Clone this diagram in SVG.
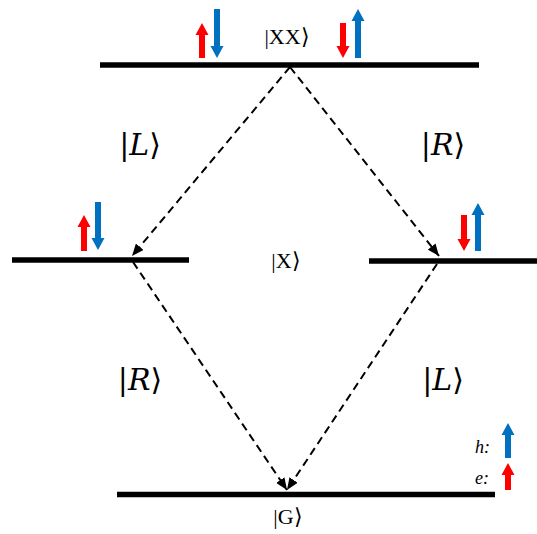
<svg xmlns="http://www.w3.org/2000/svg" width="537" height="534" viewBox="0 0 537 534">
<style>
.lvl{stroke:#000;stroke-width:5.5;fill:none}
.dash{stroke:#000;stroke-width:2;stroke-dasharray:8,5;fill:none}
.ket{font-family:"Liberation Serif",serif;font-size:22px;text-anchor:middle;fill:#000}
.pol{font-family:"DejaVu Serif","Liberation Serif",serif;font-size:30px;text-anchor:middle;fill:#000}
.lg{font-family:"Liberation Serif",serif;font-size:18px;font-style:italic;fill:#000}
.red{fill:#ff0000}
.blue{fill:#0070c0}
</style>
<defs>
<marker id="ah" markerWidth="12" markerHeight="10" refX="12" refY="5" orient="auto" markerUnits="userSpaceOnUse">
<path d="M0,0 L12,5 L0,10 Z" fill="#000"/>
</marker>
</defs>
<g id="connectors">
<line class="dash" x1="290" y1="67" x2="132" y2="256" marker-end="url(#ah)"/>
<line class="dash" x1="290" y1="67" x2="439" y2="256" marker-end="url(#ah)"/>
<line class="dash" x1="133" y1="262" x2="287" y2="490" marker-end="url(#ah)"/>
<line class="dash" x1="437" y1="264" x2="287" y2="490" marker-end="url(#ah)"/>
</g>
<g id="XX">
<line class="lvl" x1="100" y1="65" x2="479" y2="65"/>
<text class="ket" x="287" y="44">|XX⟩</text>
<path class="red" transform="translate(202,58)" d="M-3,0 L-3,-23 L-6.5,-23 L0,-35 L6.5,-23 L3,-23 L3,0 Z"/>
<path class="blue" transform="translate(217,9) scale(1,-1)" d="M-3,0 L-3,-37 L-6.5,-37 L0,-49 L6.5,-37 L3,-37 L3,0 Z"/>
<path class="red" transform="translate(343,23) scale(1,-1)" d="M-3,0 L-3,-23 L-6.5,-23 L0,-35 L6.5,-23 L3,-23 L3,0 Z"/>
<path class="blue" transform="translate(358,58)" d="M-3,0 L-3,-37 L-6.5,-37 L0,-49 L6.5,-37 L3,-37 L3,0 Z"/>
</g>
<g id="X">
<line class="lvl" x1="12" y1="260" x2="189" y2="260"/>
<line class="lvl" x1="369" y1="261" x2="537" y2="261"/>
<text class="ket" x="286" y="268">|X⟩</text>
<path class="red" transform="translate(84,251)" d="M-3,0 L-3,-24 L-6.5,-24 L0,-36 L6.5,-24 L3,-24 L3,0 Z"/>
<path class="blue" transform="translate(98,202) scale(1,-1)" d="M-3,0 L-3,-36 L-6.5,-36 L0,-48 L6.5,-36 L3,-36 L3,0 Z"/>
<path class="red" transform="translate(464,215) scale(1,-1)" d="M-3,0 L-3,-24 L-6.5,-24 L0,-36 L6.5,-24 L3,-24 L3,0 Z"/>
<path class="blue" transform="translate(478,251)" d="M-3,0 L-3,-36 L-6.5,-36 L0,-48 L6.5,-36 L3,-36 L3,0 Z"/>
</g>
<g id="G">
<line class="lvl" x1="117" y1="494.5" x2="495" y2="494.5"/>
<text class="ket" x="288" y="524">|G⟩</text>
</g>
<g id="labels">
<text class="pol" x="140" y="155">|<tspan font-style="italic">L</tspan>⟩</text>
<text class="pol" x="443" y="155">|<tspan font-style="italic">R</tspan>⟩</text>
<text class="pol" x="140" y="390">|<tspan font-style="italic">R</tspan>⟩</text>
<text class="pol" x="443" y="390">|<tspan font-style="italic">L</tspan>⟩</text>
</g>
<g id="legend">
<text class="lg" x="475" y="453">h:</text>
<text class="lg" x="475" y="484">e:</text>
<path class="blue" transform="translate(508,458)" d="M-3,0 L-3,-23 L-6.5,-23 L0,-35 L6.5,-23 L3,-23 L3,0 Z"/>
<path class="red" transform="translate(508,490)" d="M-3,0 L-3,-15 L-6.5,-15 L0,-27 L6.5,-15 L3,-15 L3,0 Z"/>
</g>
</svg>
